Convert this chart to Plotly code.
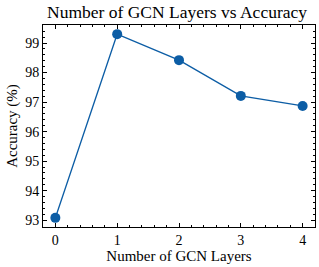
import plotly.graph_objects as go

layers = [0, 1, 2, 3, 4]
accuracy = [93.08, 99.30, 98.42, 97.21, 96.87]
title_text = "Number of GCN Layers vs Accuracy"
x_label = "Number of GCN Layers"
y_label = "Accuracy (%)"

FONT = "Liberation Serif"
COLOR = "#0C5DA5"

fig = go.Figure()
fig.add_trace(go.Scatter(
    x=layers, y=accuracy, mode="lines+markers",
    line=dict(color=COLOR, width=1.4),
    marker=dict(color=COLOR, size=10),
    showlegend=False,
))

axis_common = dict(
    showline=True, linecolor="black", linewidth=1, mirror="ticks",
    ticks="inside", ticklen=4, tickwidth=1, tickcolor="black",
    showgrid=False, zeroline=False,
    tickfont=dict(family=FONT, size=14, color="black"),
    minor=dict(ticks="inside", ticklen=2, tickwidth=0.8, tickcolor="black", dtick=0.2, showgrid=False),
)

fig.update_layout(
    width=319, height=267,
    margin=dict(l=43, r=4, t=25, b=40),
    paper_bgcolor="white", plot_bgcolor="white",
    title=dict(text=title_text, x=0.555, xanchor="center", y=0.957, yanchor="middle",
               font=dict(family=FONT, size=17.5, color="black")),
    xaxis=dict(range=[-0.2, 4.2], tickvals=layers, ticktext=[str(v) for v in layers],
               title=dict(text=x_label, font=dict(family=FONT, size=15, color="black"), standoff=2),
               **axis_common),
    yaxis=dict(range=[92.77, 99.61], dtick=1, tick0=93,
               title=dict(text=y_label, font=dict(family=FONT, size=15, color="black"), standoff=3),
               **axis_common),
)

fig.write_html("out.html", config={"displayModeBar": False},
               post_script="document.body.style.margin='0';document.body.style.overflow='hidden';")
